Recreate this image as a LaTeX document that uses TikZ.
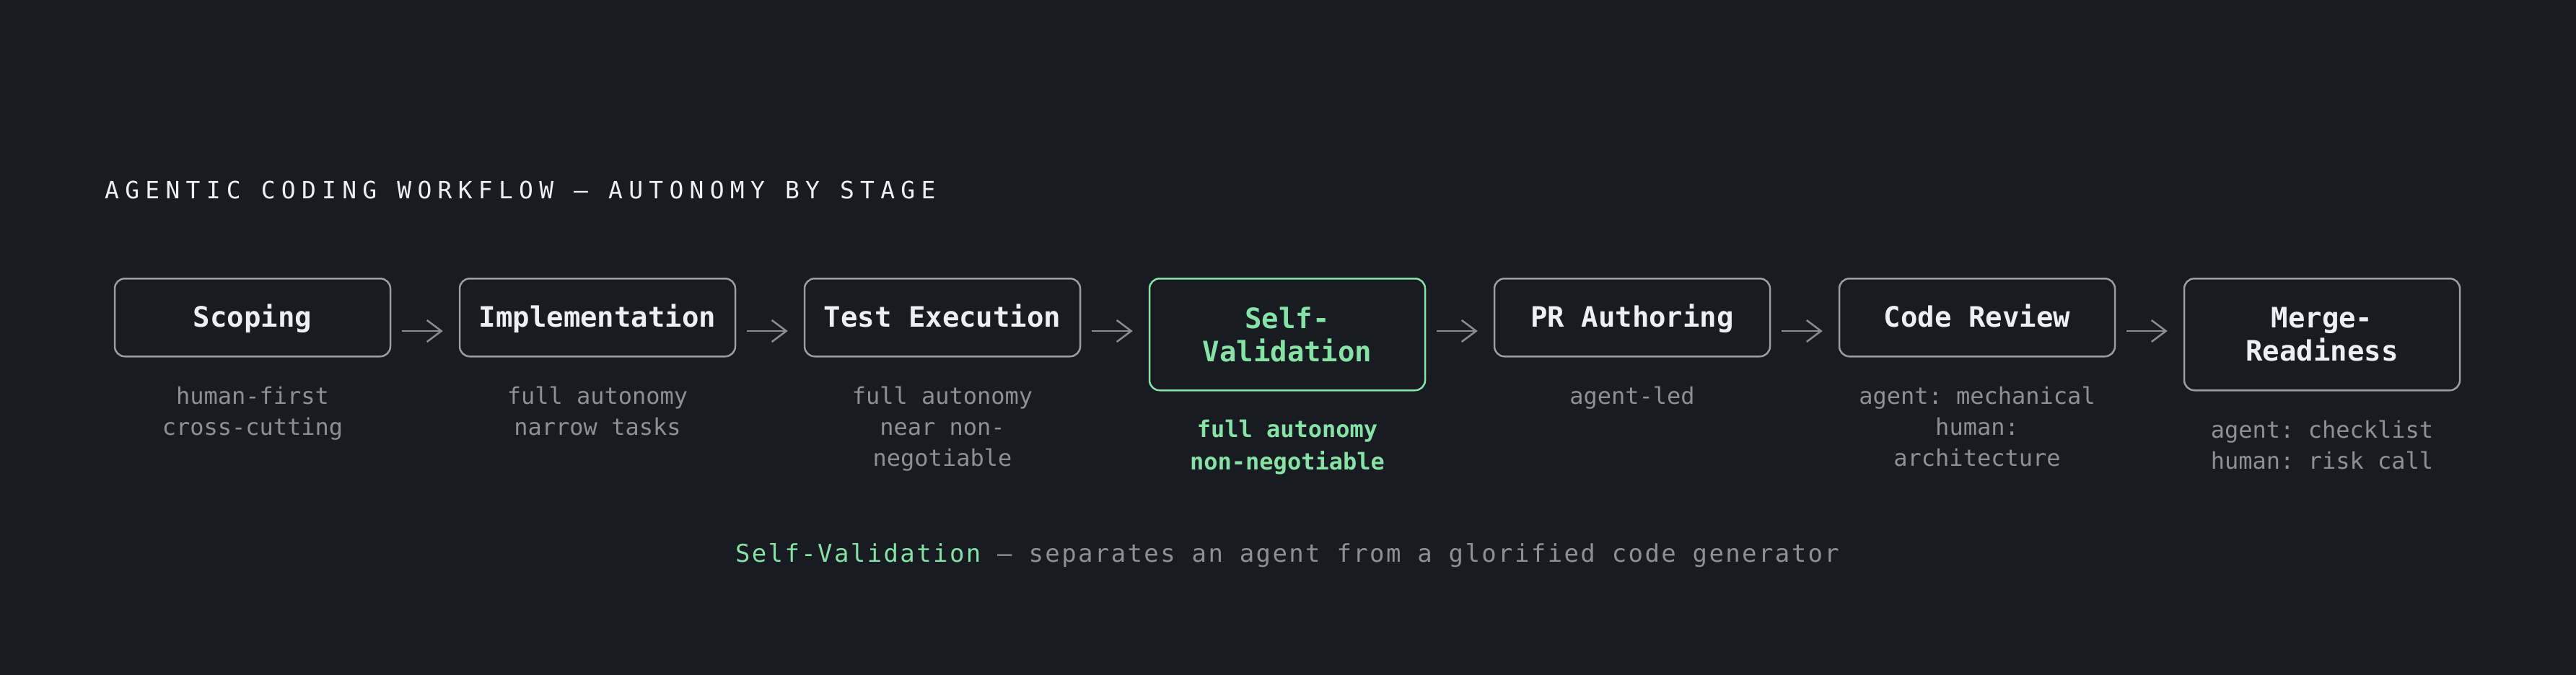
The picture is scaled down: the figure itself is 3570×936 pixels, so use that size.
\documentclass[tikz,border=0pt]{standalone}
\usepackage{fontspec}
\setmonofont{DejaVu Sans Mono}
\newfontfamily\titlefont[LetterSpace=25]{DejaVu Sans Mono}
\newfontfamily\notefont[LetterSpace=7]{DejaVu Sans Mono}
\usetikzlibrary{arrows.meta}
\definecolor{bg}{HTML}{181B22}
\definecolor{boxc}{HTML}{9B9DA4}
\definecolor{txt}{HTML}{EDEFF4}
\definecolor{subc}{HTML}{8E9098}
\definecolor{grn}{HTML}{86E3A5}
\definecolor{arrc}{HTML}{8A8C93}
\begin{document}
\begin{tikzpicture}[x=1pt,y=-1pt,
  basebox/.style={draw=boxc, fill=bg, line width=2.5pt, rounded corners=14pt,
    minimum width=382pt, text=txt, anchor=north,
    font=\ttfamily\bfseries\fontsize{39}{46}\selectfont, align=center, inner sep=0pt},
  stagebox/.style={basebox, minimum height=108pt, text height=32pt, text depth=6pt},
  tallbox/.style={basebox, minimum height=155pt},
  hotbox/.style={tallbox, draw=grn, text=grn},
  subtext/.style={anchor=base, align=center, text=subc, inner sep=0pt,
    font=\ttfamily\fontsize{32}{43}\selectfont},
  hotsub/.style={subtext, text=grn, font=\ttfamily\bfseries\fontsize{32}{45}\selectfont},
  arr/.style={draw=arrc, line width=2.5pt, -{Straight Barb[length=20pt,width=30pt]}}
]
\fill[bg] (0,0) rectangle (3570,936);
\useasboundingbox (0,0) rectangle (3570,936);

\node[anchor=base west, inner sep=0pt, text=txt, font=\titlefont\fontsize{33}{40}\selectfont]
  (title) at (145,275) {AGENTIC CODING WORKFLOW — AUTONOMY BY STAGE};

\node[stagebox] (s1) at (350,385)  {Scoping};
\node[stagebox] (s2) at (828,385)  {Implementation};
\node[stagebox] (s3) at (1306,385) {Test Execution};
\node[hotbox]   (s4) at (1784,385) {Self-\\Validation};
\node[stagebox] (s5) at (2262,385) {PR Authoring};
\node[stagebox] (s6) at (2740,385) {Code Review};
\node[tallbox]  (s7) at (3218,385) {Merge-\\Readiness};

% base anchor = baseline of the last line
\node[subtext] (d1) at (350,603)  {human-first\\cross-cutting};
\node[subtext] (d2) at (828,603)  {full autonomy\\narrow tasks};
\node[subtext] (d3) at (1306,646) {full autonomy\\near non-\\negotiable};
\node[hotsub]  (d4) at (1784,651) {full autonomy\\non-negotiable};
\node[subtext] (d5) at (2262,560) {agent-led};
\node[subtext] (d6) at (2740,646) {agent: mechanical\\human:\\architecture};
\node[subtext] (d7) at (3218,650) {agent: checklist\\human: risk call};

\coordinate (row) at (0,459);
\foreach \a/\b in {s1/s2,s2/s3,s3/s4,s4/s5,s5/s6,s6/s7}
  \draw[arr] ([xshift=15pt]\a.east |- row) -- ([xshift=-22pt]\b.west |- row);

\node[anchor=base, inner sep=0pt, font=\notefont\fontsize{34}{40}\selectfont]
  (note) at (1784,779) {\textcolor{grn}{Self-Validation}\ \textcolor{subc}{— separates an agent from a glorified code generator}};
\end{tikzpicture}
\end{document}
